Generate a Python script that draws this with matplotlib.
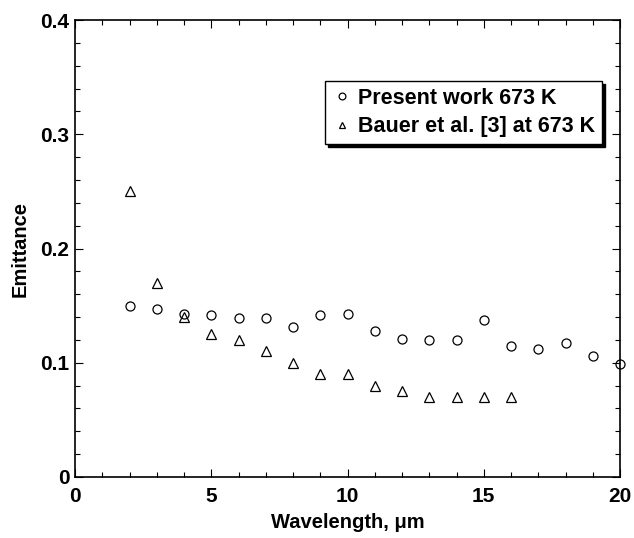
import matplotlib.pyplot as plt
from matplotlib.ticker import MultipleLocator

plt.rcParams['font.family'] = ['Liberation Sans', 'DejaVu Sans']
plt.rcParams['font.weight'] = 'bold'

# present work, 673 K
wl_present = [2, 3, 4, 5, 6, 7, 8, 9, 10, 11, 12, 13, 14, 15, 16, 17, 18, 19, 20]
em_present = [0.150, 0.147, 0.143, 0.142, 0.139, 0.139, 0.131, 0.142, 0.143,
              0.128, 0.121, 0.120, 0.120, 0.137, 0.115, 0.112, 0.117, 0.106, 0.099]

# Bauer et al. [3], 673 K
wl_bauer = [2, 3, 4, 5, 6, 7, 8, 9, 10, 11, 12, 13, 14, 15, 16]
em_bauer = [0.25, 0.17, 0.14, 0.125, 0.12, 0.11, 0.10, 0.09, 0.09, 0.08,
            0.075, 0.07, 0.07, 0.07, 0.07]

fig = plt.figure(figsize=(6.34, 5.38), dpi=100)
ax = fig.add_axes([0.1183, 0.1134, 0.8597, 0.8494])

ax.plot(wl_present, em_present, 'o', mfc='none', mec='black', ms=6.5, mew=0.9,
        label='Present work 673 K', clip_on=False)
ax.plot(wl_bauer, em_bauer, '^', mfc='none', mec='black', ms=6.5, mew=0.9,
        label='Bauer et al. [3] at 673 K', clip_on=False)

ax.set_xlim(0, 20)
ax.set_ylim(0, 0.4)
ax.xaxis.set_minor_locator(MultipleLocator(1))
ax.yaxis.set_minor_locator(MultipleLocator(0.02))
ax.set_xticks([0, 5, 10, 15, 20])
ax.set_xticklabels(['0', '5', '10', '15', '20'])
ax.set_yticks([0, 0.1, 0.2, 0.3, 0.4])
ax.set_yticklabels(['0', '0.1', '0.2', '0.3', '0.4'])
ax.tick_params(which='both', direction='in', top=True, right=True, width=0.8)
ax.tick_params(which='major', length=6, labelsize=15)
ax.tick_params(axis='x', which='major', pad=7)
ax.tick_params(axis='y', which='major', pad=4)
ax.tick_params(which='minor', length=3.5)
for s in ax.spines.values():
    s.set_linewidth(1.2)

ax.set_xlabel('Wavelength, μm', fontsize=14.5, fontweight='bold', labelpad=5)
ax.set_ylabel('Emittance', fontsize=14.5, fontweight='bold', labelpad=8)

leg = ax.legend(loc='upper right', bbox_to_anchor=(0.967, 0.8665), fontsize=15.5,
                frameon=True, fancybox=False, edgecolor='black',
                shadow={'color': 'black', 'alpha': 1}, handlelength=0.95,
                handletextpad=0.25, borderpad=0.32, labelspacing=0.35,
                borderaxespad=0, markerscale=0.75)
leg.get_frame().set_linewidth(1.0)

fig.savefig('out.png', dpi=100)
